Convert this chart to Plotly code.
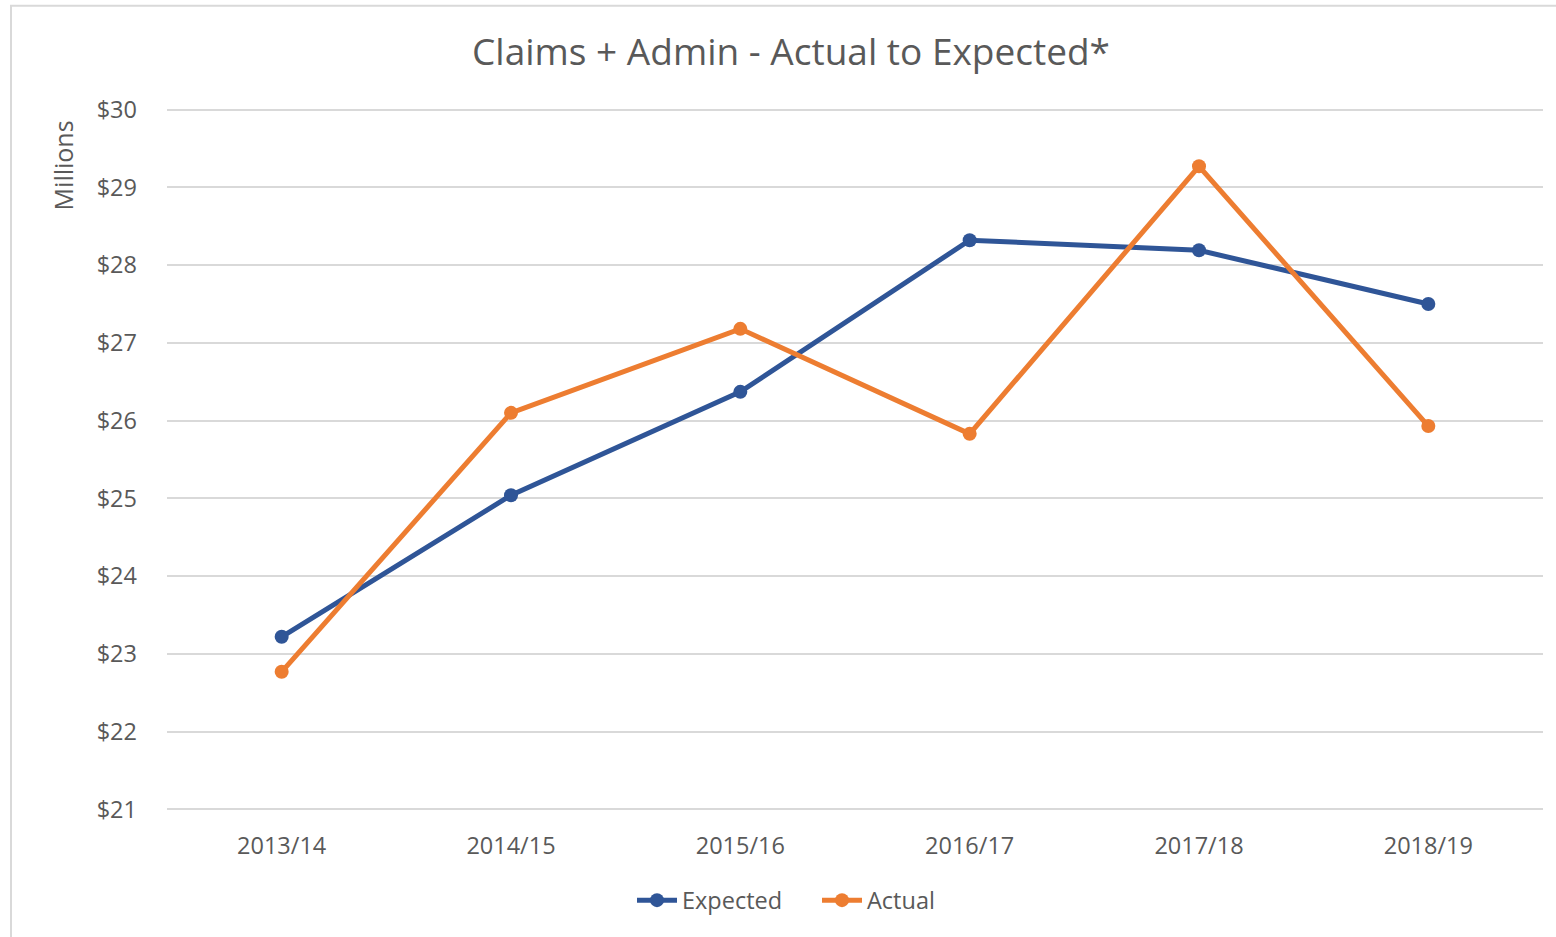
import plotly.graph_objects as go

categories = ["2013/14", "2014/15", "2015/16", "2016/17", "2017/18", "2018/19"]
expected = [23.22, 25.04, 26.37, 28.32, 28.19, 27.50]
actual = [22.77, 26.10, 27.18, 25.83, 29.27, 25.93]
tick_vals = [21, 22, 23, 24, 25, 26, 27, 28, 29, 30]
tick_text = ["$" + str(v) for v in tick_vals]

FONT = "Open Sans"
GRAY = "#595959"
BLUE = "#2F5597"
ORANGE = "#ED7D31"

fig = go.Figure()
fig.add_trace(go.Scatter(x=categories, y=expected, name="Expected", mode="lines+markers",
                         line=dict(color=BLUE, width=5), marker=dict(size=14, color=BLUE)))
fig.add_trace(go.Scatter(x=categories, y=actual, name="Actual", mode="lines+markers",
                         line=dict(color=ORANGE, width=5), marker=dict(size=14, color=ORANGE)))

W, H = 1556, 937
L, R, T, B = 167, 13, 107.5, 125.5
pw, ph = W - L - R, H - T - B

def px_x(p):
    return (p - L) / pw

def px_y(p):
    return (H - B - p) / ph

fig.update_layout(
    width=W, height=H,
    margin=dict(l=L, r=R, t=T, b=B),
    paper_bgcolor="white", plot_bgcolor="white",
    font=dict(family=FONT, color=GRAY, size=23),
    title=dict(text="Claims + Admin - Actual to Expected*", x=791 / W, xref="container",
               xanchor="center", y=1 - 52 / H, yref="container", yanchor="middle",
               font=dict(size=37, color=GRAY, family=FONT)),
    showlegend=True,
    legend=dict(orientation="h", x=px_x(817), xanchor="center", y=px_y(901), yanchor="middle",
                font=dict(size=23.5, color=GRAY), itemwidth=40, tracegroupgap=0,
                entrywidth=130, entrywidthmode="pixels",
                bgcolor="rgba(0,0,0,0)"),
    xaxis=dict(type="category", range=[-0.5, 5.5], showgrid=False, showline=False, zeroline=False,
               ticks="", ticklabelstandoff=18, tickfont=dict(size=23.5, color=GRAY)),
    yaxis=dict(range=[20.98, 30.02], tickvals=tick_vals, ticktext=tick_text, showgrid=True,
               gridcolor="#D9D9D9", gridwidth=1.5, zeroline=False, showline=False, ticks="",
               ticklabelstandoff=29,
               tickfont=dict(size=23.5, color=GRAY)),
    annotations=[dict(text="Millions", textangle=-90, x=px_x(63), y=px_y(165), xref="paper",
                      yref="paper", showarrow=False, xanchor="center", yanchor="middle",
                      font=dict(size=25, color=GRAY))],
    shapes=[dict(type="rect", xref="paper", yref="paper", x0=px_x(11), x1=px_x(1570),
                 y0=px_y(960), y1=px_y(5), line=dict(color="#D9D9D9", width=2),
                 fillcolor="rgba(0,0,0,0)", layer="below")],
)

fig.write_html("out.html", config={"displayModeBar": False},
               post_script="document.body.style.margin='0';")
